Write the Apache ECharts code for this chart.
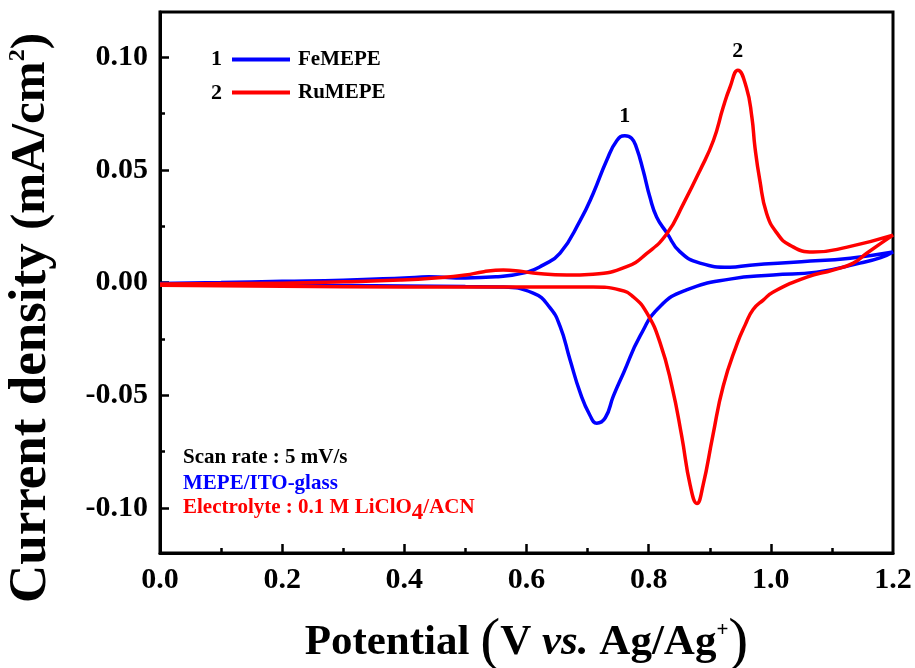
<!doctype html>
<html>
<head>
    <meta charset="UTF-8">
    <title>CV FeMEPE / RuMEPE</title>
    <script src="https://cdn.jsdelivr.net/npm/echarts@6/dist/echarts.min.js"></script>
</head>
<body style="margin: 0">
<div id="main" style="width: 915px; height: 668px;"></div>
<script type="text/javascript">
    // FeMEPE (1) forward scan, 0 -> 1.2 V
    var feFwdV = [0, 0.1, 0.2, 0.3, 0.4, 0.44, 0.5, 0.55, 0.6, 0.627, 0.655, 0.688, 0.709, 0.731, 0.748, 0.761, 0.772, 0.780, 0.791, 0.802, 0.813, 0.830, 0.851, 0.884, 0.933, 0.966, 1.05, 1.13, 1.2];
    var feFwdI = [-0.0004, 0.0, 0.0005, 0.001, 0.002, 0.0025, 0.002, 0.0025, 0.0045, 0.0077, 0.013, 0.0276, 0.0394, 0.054, 0.063, 0.0651, 0.064, 0.0598, 0.0497, 0.0379, 0.0291, 0.0219, 0.0137, 0.0086, 0.0068, 0.0077, 0.0092, 0.0108, 0.0135];
    // FeMEPE reverse scan, 1.2 -> 0 V
    var feRevV = [1.2, 1.18, 1.146, 1.075, 1.004, 0.933, 0.862, 0.819, 0.786, 0.759, 0.742, 0.729, 0.715, 0.704, 0.688, 0.671, 0.655, 0.638, 0.611, 0.557, 0.5, 0.4, 0.2, 0];
    var feRevI = [0.0135, 0.011, 0.0086, 0.0046, 0.0033, 0.0015, -0.0033, -0.0105, -0.0237, -0.040, -0.0505, -0.060, -0.0624, -0.059, -0.049, -0.034, -0.0195, -0.011, -0.0047, -0.002, -0.0018, -0.0015, -0.0012, -0.0008];

    // RuMEPE (2) forward scan
    var ruFwdV = [0, 0.2, 0.3, 0.393, 0.45, 0.5, 0.53, 0.562, 0.59, 0.611, 0.666, 0.709, 0.764, 0.797, 0.830, 0.857, 0.884, 0.906, 0.922, 0.933, 0.946, 0.960, 0.969, 0.974, 0.982, 0.993, 1.010, 1.031, 1.069, 1.125, 1.2];
    var ruFwdI = [-0.0007, -0.0003, 0.0003, 0.0011, 0.002, 0.0033, 0.0048, 0.0055, 0.005, 0.0042, 0.0033, 0.0037, 0.007, 0.0129, 0.0217, 0.035, 0.0497, 0.063, 0.0777, 0.0865, 0.0942, 0.0865, 0.0733, 0.060, 0.0453, 0.0307, 0.0219, 0.0166, 0.0135, 0.0157, 0.021];
    // RuMEPE reverse scan
    var ruRevV = [1.2, 1.157, 1.135, 1.102, 1.059, 1.004, 0.988, 0.971, 0.958, 0.945, 0.922, 0.905, 0.889, 0.879, 0.868, 0.854, 0.838, 0.819, 0.797, 0.775, 0.753, 0.709, 0.6, 0.4, 0.2, 0];
    var ruRevI = [0.021, 0.013, 0.0086, 0.0055, 0.0024, -0.0042, -0.0077, -0.012, -0.0188, -0.027, -0.046, -0.068, -0.090, -0.098, -0.090, -0.068, -0.046, -0.027, -0.0135, -0.0064, -0.0033, -0.002, -0.002, -0.002, -0.0017, -0.0012];

    var seriesNames = ['FeMEPE', 'RuMEPE'];
    var xLabels = [0, 0.2, 0.4, 0.6, 0.8, 1.0, 1.2];
    var xMajorTicks = [0.2, 0.4, 0.6, 0.8, 1.0];
    var xMinorTicks = [0.1, 0.3, 0.5, 0.7, 0.9, 1.1];
    var yLabels = [-0.10, -0.05, 0.00, 0.05, 0.10];
    var yMinorTicks = [-0.075, -0.025, 0.025, 0.075];

    function loop(fv, fi, rv, ri) {
        var out = [];
        for (var i = 0; i < fv.length; i++) out.push([fv[i], fi[i]]);
        for (var j = 0; j < rv.length; j++) out.push([rv[j], ri[j]]);
        return out;
    }
    function peakOf(v, c) {
        var k = 0;
        for (var i = 1; i < c.length; i++) if (c[i] > c[k]) k = i;
        return [v[k], c[k]];
    }

    var feData = loop(feFwdV, feFwdI, feRevV, feRevI);
    var ruData = loop(ruFwdV, ruFwdI, ruRevV, ruRevI);

    var serif = '"Liberation Serif", "Times New Roman", serif';
    var tickStyle = {color: '#000', width: 2.5};

    // label-less ruler axis spanning the same pixels as the data axis;
    // its own scale is shifted so the custom ticks never fall on its default ticks
    function tickAxis(min, max, pos, vals, len) {
        var k = 100, base = 0.37;
        return {
            type: 'value', min: base, max: base + (max - min) * k, position: pos, offset: 0,
            axisLine: {show: false, onZero: false},
            axisTick: {
                show: true, inside: true, length: len, lineStyle: tickStyle,
                customValues: vals.map(function (v) { return Math.round(((v - min) * k + base) * 1000) / 1000; })
            },
            axisLabel: {show: false},
            splitLine: {show: false}
        };
    }

    var peakLabel = function (txt) {
        return {
            symbol: 'circle',
            symbolSize: 0,
            label: {
                show: true, position: 'top', distance: 8, formatter: txt,
                color: '#000', fontFamily: serif, fontWeight: 'bold', fontSize: 22
            },
            data: []
        };
    };
    var mp1 = peakLabel('1');
    mp1.data.push({coord: peakOf(feFwdV, feFwdI)});
    var mp2 = peakLabel('2');
    mp2.data.push({coord: peakOf(ruFwdV, ruFwdI)});

    var myChart = echarts.init(document.getElementById('main'));
    var option = {
        backgroundColor: '#fff',
        animation: false,
        grid: {
            left: 160, right: 22, top: 12, bottom: 115,
            outerBoundsMode: 'none',
            containLabel: false,
            show: true, borderColor: '#000', borderWidth: 3
        },
        legend: {
            data: seriesNames,
            orient: 'vertical',
            left: 227, top: 44,
            itemWidth: 58, itemHeight: 4, itemGap: 12,
            icon: 'rect',
            textStyle: {fontFamily: serif, fontWeight: 'bold', fontSize: 21, color: '#000', padding: [0, 0, 0, 3]}
        },
        xAxis: [{
            type: 'value', min: 0, max: 1.2, interval: 0.2,
            axisLine: {onZero: false, lineStyle: {color: '#000', width: 3}},
            axisTick: {show: false},
            splitLine: {show: false},
            axisLabel: {
                margin: 12, color: '#000', fontFamily: serif, fontWeight: 'bold', fontSize: 30,
                customValues: xLabels,
                formatter: function (v) { return v.toFixed(1); }
            },
            name: '{a|Potential }{p|(}{a|V }{i|vs.}{a| Ag/Ag}{s|+}{p|)}',
            nameLocation: 'middle', nameGap: 60,
            nameTextStyle: {
                rich: {
                    a: {fontFamily: serif, fontWeight: 'bold', fontSize: 43, color: '#000'},
                    i: {fontFamily: serif, fontWeight: 'bold', fontStyle: 'italic', fontSize: 43, color: '#000'},
                    p: {fontFamily: serif, fontSize: 60, color: '#000'},
                    s: {fontFamily: serif, fontWeight: 'bold', fontSize: 21, color: '#000', padding: [0, 0, 24, 0]}
                }
            }
        },
            tickAxis(0, 1.2, 'bottom', xMajorTicks, 9),
            tickAxis(0, 1.2, 'bottom', xMinorTicks, 5)
        ],
        yAxis: [{
            type: 'value', min: -0.12, max: 0.12,
            axisLine: {onZero: false, lineStyle: {color: '#000', width: 3}},
            axisTick: {show: false},
            splitLine: {show: false},
            axisLabel: {
                margin: 12, color: '#000', fontFamily: serif, fontWeight: 'bold', fontSize: 30,
                customValues: yLabels,
                formatter: function (v) { return v.toFixed(2); }
            }
        },
            tickAxis(-0.12, 0.12, 'left', yLabels, 9),
            tickAxis(-0.12, 0.12, 'left', yMinorTicks, 5)
        ],
        series: [{
            name: seriesNames[0], type: 'line', data: feData,
            showSymbol: false, smooth: 0.5, color: '#0000ff',
            lineStyle: {width: 3.5, color: '#0000ff'},
            markPoint: mp1
        }, {
            name: seriesNames[1], type: 'line', data: ruData,
            showSymbol: false, smooth: 0.5, color: '#ff0000',
            lineStyle: {width: 3.5, color: '#ff0000'},
            markPoint: mp2
        }],
        graphic: [
            {
                type: 'text', x: 31, y: 318, rotation: Math.PI / 2,
                style: {
                    text: '{a|Current density }{b|(mA/cm}{s|2}{b|)}',
                    align: 'center', verticalAlign: 'middle',
                    rich: {
                        a: {fontFamily: serif, fontWeight: 'bold', fontSize: 53, fill: '#000'},
                        b: {fontFamily: serif, fontWeight: 'bold', fontSize: 49, fill: '#000'},
                        s: {fontFamily: serif, fontWeight: 'bold', fontSize: 24, fill: '#000', padding: [0, 0, 26, 0]}
                    }
                }
            },
            {type: 'text', left: 211, top: 48, style: {text: '1', fontFamily: serif, fontWeight: 'bold', fontSize: 22, fill: '#000'}},
            {type: 'text', left: 211, top: 82, style: {text: '2', fontFamily: serif, fontWeight: 'bold', fontSize: 22, fill: '#000'}},
            {type: 'text', left: 183, top: 447, style: {text: 'Scan rate : 5 mV/s', fontFamily: serif, fontWeight: 'bold', fontSize: 21, fill: '#000'}},
            {type: 'text', left: 183, top: 473, style: {text: 'MEPE/ITO-glass', fontFamily: serif, fontWeight: 'bold', fontSize: 21, fill: '#0000ff'}},
            {
                type: 'text', left: 183, top: 497,
                style: {
                    text: '{r|Electrolyte : 0.1 M LiClO}{d|4}{r|/ACN}',
                    rich: {
                        r: {fontFamily: serif, fontWeight: 'bold', fontSize: 21, fill: '#ff0000'},
                        d: {fontFamily: serif, fontWeight: 'bold', fontSize: 23, fill: '#ff0000', padding: [12, 0, 0, 0]}
                    }
                }
            }
        ]
    };
    myChart.setOption(option);
</script>
</body>
</html>
